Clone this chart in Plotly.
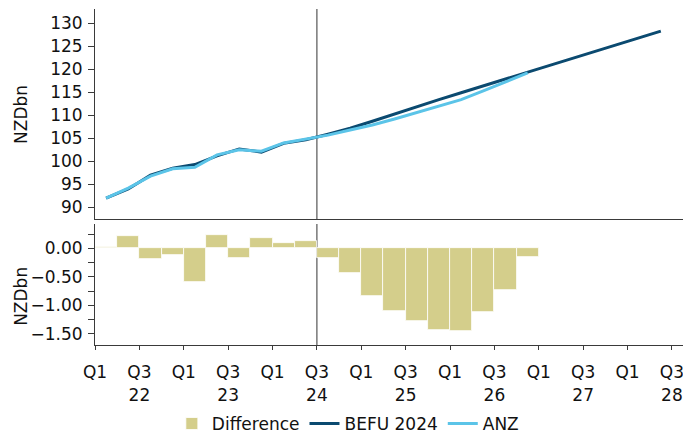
import plotly.graph_objects as go
from plotly.subplots import make_subplots

# Quarters Q1 2022 .. Q2 2028 (index 0 = Q1 2022)
quarters = ["Q1 22", "Q2 22", "Q3 22", "Q4 22", "Q1 23", "Q2 23", "Q3 23", "Q4 23",
            "Q1 24", "Q2 24", "Q3 24", "Q4 24", "Q1 25", "Q2 25", "Q3 25", "Q4 25",
            "Q1 26", "Q2 26", "Q3 26", "Q4 26", "Q1 27", "Q2 27", "Q3 27", "Q4 27",
            "Q1 28", "Q2 28"]

befu = [92.0, 94.0, 97.0, 98.5, 99.3, 101.2, 102.7, 102.0, 103.9, 104.7,
        105.9, 107.2, 108.7, 110.3, 111.9, 113.4, 114.9, 116.4, 117.9, 119.4,
        120.9, 122.4, 123.9, 125.4, 126.9, 128.3]

anz = [92.0, 94.2, 96.8, 98.4, 98.7, 101.4, 102.5, 102.2, 104.0, 104.8,
       105.7, 106.8, 107.9, 109.2, 110.6, 112.0, 113.4, 115.3, 117.2, 119.2]

difference = [0.03, 0.22, -0.18, -0.12, -0.60, 0.24, -0.16, 0.19, 0.09, 0.13,
              -0.16, -0.43, -0.84, -1.11, -1.27, -1.44, -1.46, -1.12, -0.74, -0.15]

tick_text = ["Q1", "Q3<br>22", "Q1", "Q3<br>23", "Q1", "Q3<br>24", "Q1",
             "Q3<br>25", "Q1", "Q3<br>26", "Q1", "Q3<br>27", "Q1", "Q3<br>28"]

x_befu = list(range(len(befu)))
x_anz = list(range(len(anz)))
x_diff = list(range(len(difference)))
tick_vals = [-0.5 + 2 * k for k in range(len(tick_text))]

FONT = "DejaVu Sans"
AX = "#3a3a3a"

fig = make_subplots(rows=2, cols=1, shared_xaxes=False)

fig.add_trace(go.Bar(x=x_diff, y=difference, name="Difference",
                     marker=dict(color="#D4CE8B", line=dict(color="white", width=0.8))),
              row=2, col=1)
fig.add_trace(go.Scatter(x=x_befu, y=befu, mode="lines", name="BEFU 2024",
                         line=dict(color="#0B4A70", width=3)), row=1, col=1)
fig.add_trace(go.Scatter(x=x_anz, y=anz, mode="lines", name="ANZ",
                         line=dict(color="#5BC4E8", width=3)), row=1, col=1)

xr = [-0.5, 26.0]
fig.update_layout(
    width=683, height=434,
    margin=dict(l=95, r=0, t=9, b=89, autoexpand=False),
    paper_bgcolor="white", plot_bgcolor="white",
    font=dict(family=FONT, size=17, color="#111"),
    bargap=0,
    showlegend=True,
    legend=dict(orientation="h", x=0.43, xanchor="center", y=-0.235, yanchor="middle",
                font=dict(size=17), traceorder="normal", borderwidth=0),
    xaxis=dict(domain=[0, 1], range=xr, showline=True, linecolor=AX, linewidth=1,
               ticks="", showticklabels=False, showgrid=False, zeroline=False,
               automargin=False),
    yaxis=dict(domain=[0.374, 1], range=[87.4, 133.1], tickvals=[90, 95, 100, 105, 110, 115, 120, 125, 130],
               showline=True, linecolor=AX, linewidth=1, ticks="outside", ticklen=6,
               tickcolor=AX, showgrid=False, zeroline=False, automargin=False,
               ticklabelstandoff=2),
    xaxis2=dict(domain=[0, 1], range=xr, showline=True, linecolor=AX, linewidth=1,
                tickvals=tick_vals, ticktext=tick_text, ticks="outside", ticklen=4,
                tickcolor=AX, showgrid=False, zeroline=False, automargin=False,
                ticklabelstandoff=8, ticklabeloverflow="allow"),
    yaxis2=dict(domain=[0, 0.360], range=[-1.70, 0.43], tickvals=[0, -0.5, -1.0, -1.5],
                tickformat=".2f", showline=True, linecolor=AX, linewidth=1,
                ticks="outside", ticklen=6, tickcolor=AX, showgrid=False, zeroline=False,
                automargin=False, ticklabelstandoff=2,
                minor=dict(dtick=0.25, tick0=0, ticks="outside", ticklen=6, tickcolor=AX)),
    annotations=[
        dict(text="NZDbn", xref="paper", yref="paper", x=-0.126, y=0.6875,
             xanchor="center", yanchor="middle", textangle=-90, showarrow=False,
             font=dict(size=17)),
        dict(text="NZDbn", xref="paper", yref="paper", x=-0.126, y=0.146,
             xanchor="center", yanchor="middle", textangle=-90, showarrow=False,
             font=dict(size=17)),
    ],
    shapes=[
        dict(type="line", xref="x", yref="y domain", x0=9.5, x1=9.5, y0=0, y1=1,
             line=dict(color="#555", width=1.2), layer="below"),
        dict(type="line", xref="x2", yref="y2 domain", x0=9.5, x1=9.5, y0=0, y1=1,
             line=dict(color="#555", width=1.2), layer="below"),
    ],
)

fig.write_html("out.html", config={"displayModeBar": False},
               post_script="document.body.style.margin='0';document.body.style.overflow='hidden';")
